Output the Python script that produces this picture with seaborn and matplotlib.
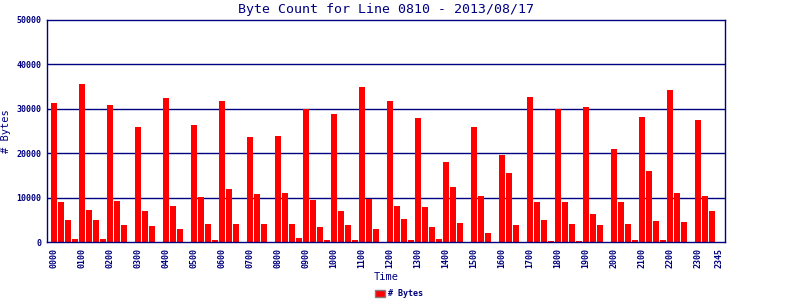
import matplotlib
matplotlib.use("Agg")
import matplotlib.pyplot as plt
import matplotlib.patches as mpatches
import seaborn as sns
import pandas as pd

times = [f"{h:02d}{m:02d}" for h in range(24) for m in (0, 15, 30, 45)]
byte_counts = [
    31330, 8920, 5020, 600,      # 00
    35600, 7120, 4870, 600,      # 01
    30880, 9145, 3750, 0,        # 02
    25790, 6900, 3520, 0,        # 03
    32530, 8020, 2850, 0,        # 04
    26460, 10040, 4120, 375,     # 05
    31860, 11840, 3970, 0,       # 06
    23540, 10720, 4120, 0,       # 07
    23910, 11090, 4120, 975,     # 08
    29980, 9520, 3450, 375,      # 09
    28860, 7050, 3900, 375,      # 10
    34930, 9745, 3000, 0,        # 11
    31780, 8170, 5250, 375,      # 12
    27960, 7950, 3450, 600,      # 13
    18070, 12440, 4350, 0,       # 14
    25940, 10420, 2100, 0,       # 15
    19640, 15590, 3900, 0,       # 16
    32680, 9070, 5020, 300,      # 17
    29980, 9070, 4120, 300,      # 18
    30430, 6370, 3900, 0,        # 19
    20990, 9070, 4120, 525,      # 20
    28180, 16040, 4800, 525,     # 21
    34260, 11090, 4570, 0,       # 22
    27510, 10420, 7050, 0,       # 23
]
tick_labels = [f"{h:02d}00" for h in range(24)] + ["2345"]
y_ticks = [0, 10000, 20000, 30000, 40000, 50000]

navy = "#000080"
mono = "DejaVu Sans Mono"

df = pd.DataFrame({"Time": times, "Bytes": byte_counts})

fig = plt.figure(figsize=(8, 3), dpi=100)
ax = fig.add_axes([47 / 800, 1 - 242 / 300, (725 - 47) / 800, (242 - 20) / 300])

sns.barplot(data=df, x="Time", y="Bytes", order=times, color="#ff0000",
            saturation=1, width=0.86, ax=ax, linewidth=0)

ax.set_xlim(-1, 95.9)
ax.set_ylim(0, 50000)
ax.set_yticks(y_ticks)
ax.set_yticklabels([str(v) for v in y_ticks], fontsize=6, fontfamily=mono,
                   fontweight="bold", color=navy)
tick_pos = [times.index(t) for t in tick_labels]
ax.set_xticks(tick_pos)
ax.set_xticklabels(tick_labels, rotation=90, fontsize=6, fontfamily=mono,
                   fontweight="bold", color=navy)
ax.tick_params(axis="both", length=0, pad=4)

for v in y_ticks[1:-1]:
    ax.axhline(v, color=navy, linewidth=1.0, zorder=0)
for s in ax.spines.values():
    s.set_color(navy)
    s.set_linewidth(1.0)
ax.set_facecolor("white")

ax.set_xlabel("Time", fontsize=7.5, fontfamily=mono, color=navy, labelpad=3)
ax.set_ylabel("# Bytes", fontsize=7.5, fontfamily=mono, color=navy, labelpad=4)
ax.set_title("Byte Count for Line 0810 - 2013/08/17", fontsize=9.5,
             fontfamily=mono, color=navy, pad=5)

handle = mpatches.Patch(facecolor="#ff0000", edgecolor="#808080", linewidth=1)
fig.legend([handle], ["# Bytes"], loc="center", bbox_to_anchor=(399 / 800, 1 - 294 / 300),
           frameon=False, prop={"family": mono, "size": 6, "weight": "bold"},
           handlelength=1.2, handleheight=0.8, handletextpad=0.4, labelcolor=navy)

fig.savefig("out.png", dpi=100, facecolor="white")
